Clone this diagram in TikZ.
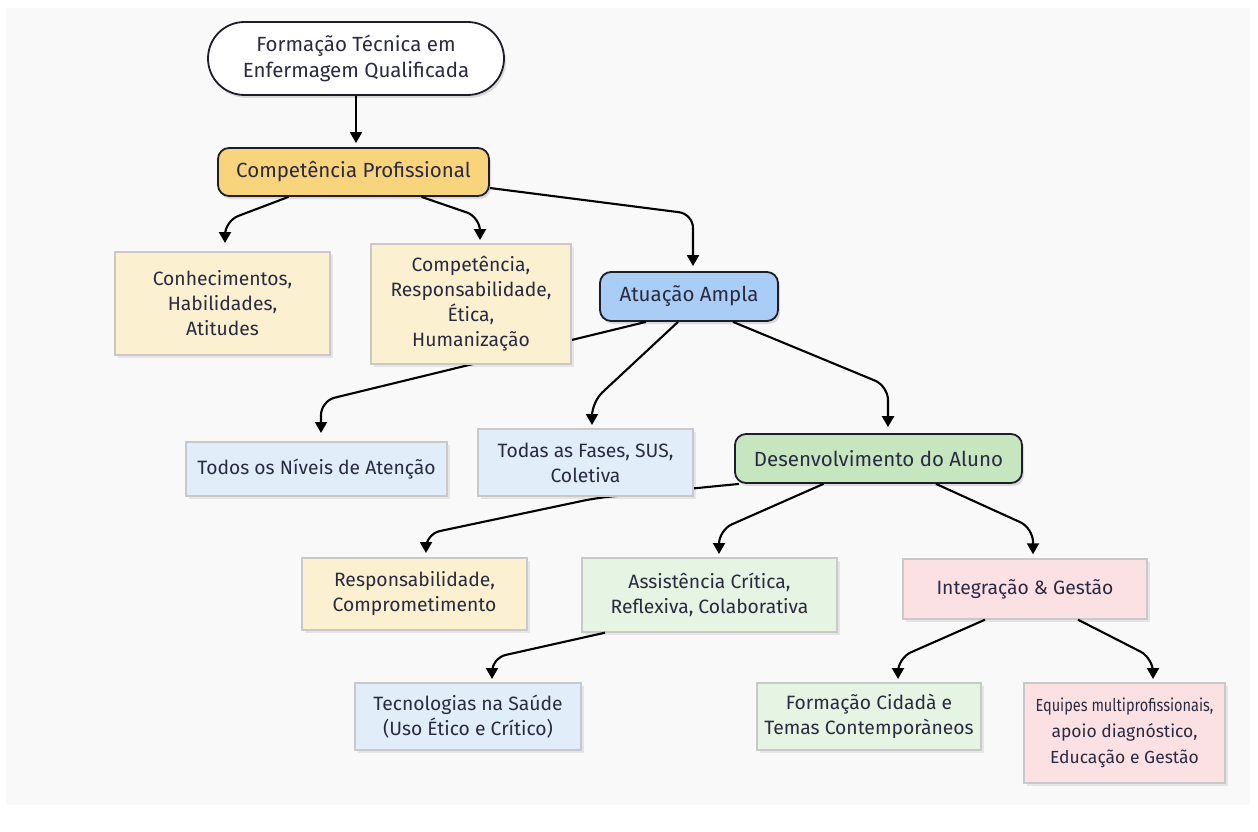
\documentclass[tikz,border=0pt]{standalone}
\usepackage{fontspec}
\setmainfont{Fira Sans}
\usetikzlibrary{arrows.meta,shadows,calc}
\definecolor{ink}{HTML}{2A2A40}
\definecolor{edge}{HTML}{1E1E2A}
\definecolor{boxline}{HTML}{C9C9CC}
\definecolor{yel}{HTML}{F8D57C}
\definecolor{yelL}{HTML}{FBF0CF}
\definecolor{blu}{HTML}{AACDF6}
\definecolor{bluL}{HTML}{E1EEFA}
\definecolor{grn}{HTML}{C6E6C0}
\definecolor{grnL}{HTML}{E6F4E3}
\definecolor{pnkL}{HTML}{FCE1E4}
\definecolor{bg}{HTML}{F9F9F9}
\tikzset{
  mainnode/.style={draw=edge, line width=1.8pt, rounded corners=11pt, inner sep=0pt,
    align=center, text=ink, font=\fontsize{20.5}{26}\selectfont,
    drop shadow={shadow xshift=2pt, shadow yshift=-3pt, fill=black, opacity=0.12}},
  leafbox/.style={draw=boxline, line width=1.4pt, inner sep=0pt, align=center, text=ink,
    font=\fontsize{19.3}{25}\selectfont,
    drop shadow={shadow xshift=3pt, shadow yshift=-3pt, fill=black, opacity=0.08}},
  conn/.style={line width=2.1pt, draw=black, rounded corners=14pt,
    -{Triangle[width=12pt,length=11pt]}, shorten >=4pt},
}
\begin{document}
\begin{tikzpicture}[x=1pt,y=-1pt]
\useasboundingbox (0,0) rectangle (1258,832);
\fill[white] (0,0) rectangle (1258,832);
\fill[bg] (6,8) rectangle (1250,805);

% bend points of the connectors
\coordinate (b1) at (225,221);
\coordinate (b2) at (480,217);
\coordinate (b3) at (693,214);
\coordinate (b4) at (321,401);
\coordinate (b5) at (592,402);
\coordinate (b6) at (888,386);
\coordinate (b7a) at (596,498);
\coordinate (b7) at (426,534);
\coordinate (b8) at (719,530);
\coordinate (b9) at (1033,528);
\coordinate (b10) at (492,658);
\coordinate (b11) at (898,658);
\coordinate (b12) at (1153,658);

% main nodes
\node[mainnode, fill=white, rounded corners=36.5pt, minimum width=296pt, minimum height=73pt] (top) at (356,58.5) {Formação Técnica em\\Enfermagem Qualificada};
\node[mainnode, fill=yel, minimum width=271pt, minimum height=48pt] (cp) at (353.5,172) {Competência Profissional};
\node[mainnode, fill=blu, minimum width=178pt, minimum height=49pt] (atu) at (689,296.5) {Atuação Ampla};
\node[mainnode, fill=grn, minimum width=287pt, minimum height=49pt] (desenv) at (878.5,458.5) {Desenvolvimento do Aluno};

% connectors (drawn before the boxes so the boxes cover them)
\draw[conn] (top.south) -- (top.south |- cp.north);
\draw[conn, shorten >=9pt] ([xshift=-65pt]cp.south) -- (b1) -- (b1 |- 0,252);
\draw[conn] ([xshift=68pt]cp.south) -- (b2) -- (b2 |- 0,244);
\draw[conn, shorten >=5pt] ([yshift=-16pt]cp.east) -- (b3) -- (b3 |- atu.north);
\draw[conn, shorten >=9pt] ([xshift=-43pt]atu.south) -- (b4) -- (b4 |- 0,442);
\draw[conn] ([xshift=-11pt]atu.south) -- (b5) -- (b5 |- 0,429);
\draw[conn, shorten >=6pt] ([xshift=44pt]atu.south) -- (b6) -- (b6 |- desenv.north);
\draw[conn, shorten >=5pt] ([xshift=5pt]desenv.south west) -- (b7a) -- (b7) -- (b7 |- 0,558);
\draw[conn] ([xshift=-55pt]desenv.south) -- (b8) -- (b8 |- 0,558);

\node[leafbox, fill=yelL, minimum width=215pt, minimum height=103pt] (conh) at (222.5,303.5) {Conhecimentos,\\Habilidades,\\Atitudes};
\node[leafbox, fill=yelL, minimum width=200pt, minimum height=120pt] (comp) at (471,304) {Competência,\\Responsabilidade,\\Ética,\\Humanização};
\node[leafbox, fill=bluL, minimum width=261pt, minimum height=54pt] (todos) at (316.5,469) {Todos os Níveis de Atenção};
\node[leafbox, fill=bluL, minimum width=215pt, minimum height=67pt] (fases) at (585.5,462.5) {Todas as Fases, SUS,\\Coletiva};
\node[leafbox, fill=yelL, minimum width=225pt, minimum height=72pt] (resp) at (414.5,594) {Responsabilidade,\\Comprometimento};
\node[leafbox, fill=grnL, minimum width=255pt, minimum height=74pt] (assist) at (709.5,595) {Assistência Crítica,\\Reflexiva, Colaborativa};
\node[leafbox, fill=pnkL, minimum width=244pt, minimum height=60pt] (integr) at (1025,589) {Integração \& Gestão};

\draw[conn] ([xshift=57.5pt]desenv.south) -- (b9) -- (b9 |- integr.north);
\draw[conn] ([xshift=-104.5pt]assist.south) -- (b10) -- (b10 |- 0,683);
\draw[conn] ([xshift=-40pt]integr.south) -- (b11) -- (b11 |- 0,683);
\draw[conn] ([xshift=53pt]integr.south) -- (b12) -- (b12 |- 0,683);

\node[leafbox, fill=bluL, minimum width=226pt, minimum height=67pt] (tecno) at (468,716.5) {Tecnologias na Saúde\\(Uso Ético e Crítico)};
\node[leafbox, fill=grnL, minimum width=224pt, minimum height=67pt] (formc) at (869,716.5) {Formação Cidadà e\\Temas Contemporàneos};
\node[leafbox, fill=pnkL, minimum width=201pt, minimum height=100pt, font=\fontsize{17.5}{26}\selectfont] (equip) at (1124.5,733) {\scalebox{0.83}[1]{Equipes multiprofissionais,}\\apoio diagnóstico,\\Educação e Gestão};
\end{tikzpicture}
\end{document}
